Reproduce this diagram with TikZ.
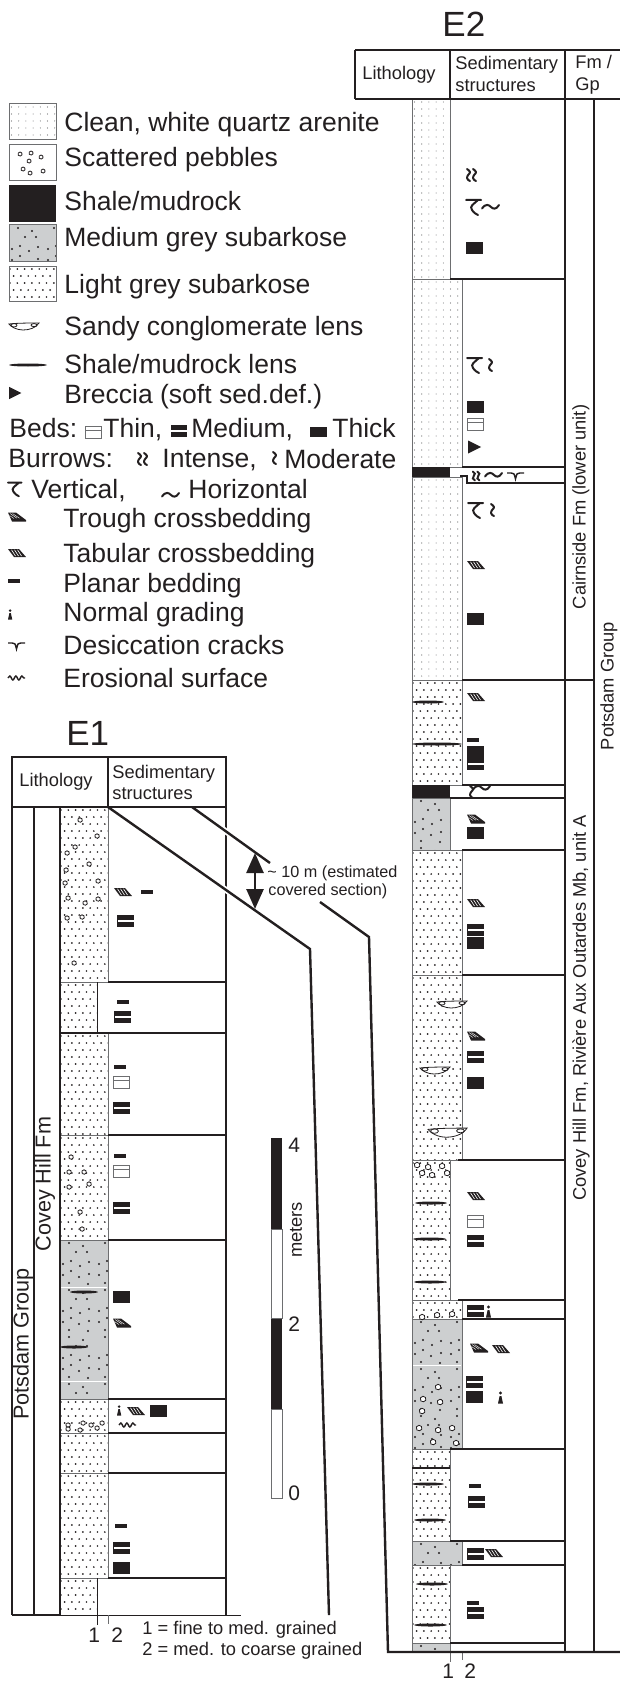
\documentclass[tikz,border=0pt]{standalone}
\usepackage{fontspec}
\setmainfont{Liberation Sans}
\usetikzlibrary{arrows.meta,calc,decorations.pathmorphing}
\definecolor{ink}{HTML}{231F20}
\definecolor{medgrey}{HTML}{CDCFD0}
\definecolor{edgegrey}{HTML}{6D6E70}
\tikzset{
	lab/.style={font=\fontsize{9.15}{11}\selectfont,inner sep=0pt,anchor=base west,text=ink},
	leg/.style={font=\fontsize{13.25}{15}\selectfont,inner sep=0pt,anchor=base west,text=ink},
	big/.style={font=\fontsize{17.5}{20}\selectfont,inner sep=0pt,anchor=base west,text=ink},
	num/.style={font=\fontsize{10.5}{12}\selectfont,inner sep=0pt,anchor=base west,text=ink},
	rot/.style={font=\fontsize{9.15}{11}\selectfont,inner sep=0pt,rotate=90,text=ink},
	rotbig/.style={font=\fontsize{10.8}{12}\selectfont,inner sep=0pt,rotate=90,text=ink},
	secline/.style={draw=ink,line width=1.2pt},
	sideline/.style={draw=edgegrey,line width=0.5pt},
	burrow/.style={draw=ink,line width=1pt,line cap=round},
	thickbed/.pic={\fill[ink] (0,-6) rectangle (17,6);},
	medbed/.pic={\fill[ink] (0,-6) rectangle (17,6);\fill[white] (0.5,-1) rectangle (16.5,1);},
	thinbed/.pic={\draw[edgegrey,line width=0.5pt,fill=white] (0,-6) rectangle (16,6) (0,-1.5) -- (16,-1.5);},
	planarbed/.pic={\fill[ink] (0,-1.7) rectangle (12,1.7);},
	tabularsym/.pic={\fill[ink] (0,-4) -- (11,-4) -- (18,4) -- (6,4) -- cycle;
		\draw[white,line width=0.3pt] (3.5,-3.2) -- (7.5,3) (6.5,-3.2) -- (10.5,3) (9.5,-3.2) -- (13.5,3);},
	troughsym/.pic={\fill[ink] (0,-4.5) -- (8,-4.5) -- (18,3) -- (18,4.5) -- (4,4.5) -- cycle;
		\draw[white,line width=0.2pt] (2,-3.5) -- (9,1.2) (4.5,-3.5) -- (11.5,1.2) (1.5,-1.5) -- (6,1.5);},
	gradingsym/.pic={\fill[ink] (0,6.5) -- (5,6.5) -- (3.4,-1) -- (1.6,-1) -- cycle;\fill[ink] (2.5,-4) circle (1.7);},
	intensesym/.pic={\draw[burrow] (1,-6) .. controls (4,-4) and (5,-2.5) .. (2.5,-0.5) .. controls (0,2) and (1,5) .. (4,6)
		(7,-6) .. controls (10,-4) and (11,-2.5) .. (8.5,-0.5) .. controls (6,2) and (7,5) .. (10,6);},
	moderatesym/.pic={\draw[burrow] (1,-6) .. controls (4,-4) and (5,-2.5) .. (2.5,-0.5) .. controls (0,2) and (1,5) .. (4,6);},
	verticalsym/.pic={\draw[burrow] (0,-7) -- (15,-7) (12,-7) .. controls (8,-3) and (3,-1) .. (6,3) .. controls (8,6) and (10,7) .. (12,8);},
	horizsym/.pic={\draw[burrow] (0,1.5) .. controls (4,-4) and (7,-2) .. (9,0) .. controls (11,2) and (14,3) .. (17,-2);},
	desicsym/.pic={\draw[ink,line width=0.7pt] (0,-2) -- (4,-2) .. controls (7,-2) .. (8.5,4) .. controls (10,-2) .. (13,-2) -- (17,-2);},
	brecciasym/.pic={\fill[ink] (0,-6.5) -- (13,0) -- (0,6.5) -- cycle;},
	erosionsym/.pic={\draw[ink,line width=0.7pt,decorate,decoration={snake,amplitude=1,segment length=3}] (0,0) -- (17,0);},
	conglens/.pic={\draw[ink,line width=0.4pt,fill=white] (0,-2) .. controls (8,-3) and (22,-3) .. (30,-3) .. controls (27,2) and (20,4) .. (14,4) .. controls (8,4) and (2,1) .. (0,-2) -- cycle;
		\draw[ink,line width=0.4pt] (5,-0.7) ellipse (3 and 1.7) (25,-0.9) ellipse (3 and 1.5);},
	pebble/.pic={\draw[ink,line width=0.4pt,fill=white] (-2,-1) -- (0,-2.2) -- (2,-1.2) -- (2.2,1) -- (0.5,2.2) -- (-1.8,1.5) -- cycle;}
}
\newcommand{\lightbed}[4]{%
	\begin{scope}
	\clip (#1,#2) rectangle (#3,#4);
	\pgfmathtruncatemacro{\nrows}{(#4-#2)/7}
	\pgfmathtruncatemacro{\ncols}{(#3-#1)/7.3}
	\fill[ink] \foreach \ri in {0,...,\nrows}{\foreach \ci in {0,...,\ncols}{({#1+1+\ci*7.3+3.6*mod(\ri,2)},{#2+3+\ri*7}) circle (0.95)}};
	\end{scope}
	\draw[sideline] (#1,#2) rectangle (#3,#4);}
\newcommand{\quartzbed}[4]{%
	\begin{scope}
	\clip (#1,#2) rectangle (#3,#4);
	\pgfmathtruncatemacro{\nrows}{(#4-#2)/7}
	\pgfmathtruncatemacro{\ncols}{(#3-#1)/7.2}
	\fill[edgegrey] \foreach \ri in {0,...,\nrows}{\foreach \ci in {0,...,\ncols}{({#1+2.5+\ci*7.2},{#2+3+\ri*7}) circle (0.55)}};
	\end{scope}
	\draw[sideline] (#1,#2) rectangle (#3,#4);}
\newcommand{\greybed}[4]{%
	\fill[medgrey] (#1,#2) rectangle (#3,#4);
	\begin{scope}
	\clip (#1,#2) rectangle (#3,#4);
	\pgfmathtruncatemacro{\nrows}{(#4-#2)/47}
	\fill[ink] \foreach \ri in {0,...,\nrows}{\foreach \ci in {0,1}{\foreach \dx/\dy in {9/3,23/6,16/12,27/12,3/24,11/21,20/26,29/22,11/31,3/35,19/37,29/34,9/43,28/44}{({#1+\dx+36*\ci},{#2+\dy+47*\ri}) circle (1.15)}}};
	\end{scope}
	\draw[sideline] (#1,#2) rectangle (#3,#4);}
\newcommand{\shalelens}[3]{\fill[ink] ({(#1+#2)/2},#3) ellipse ({(#2-#1)/2} and 1.5);}
\begin{document}
\begin{tikzpicture}[x=0.5pt,y=-0.5pt]
	\useasboundingbox (0,0) rectangle (620,1685);

	\quartzbed{9}{104}{56}{140}
	\draw[sideline,fill=white] (9,145) rectangle (56,181);
	\foreach \px/\py in {20/154,31/153,41/157,29/161,23/169,30/173,43/171}
		\pic[scale=0.9] at (\px,\py) {pebble};
	\fill[ink] (9,185) rectangle (56,222);
	\greybed{9}{225}{56}{261}
	\lightbed{9}{266}{56}{301}
	\pic at (9,326) {conglens};
	\shalelens{9}{47}{365}
	\pic[scale=0.95] at (9,393) {brecciasym};

	\node[leg] (clean) at (64,132) {Clean, white quartz arenite};
	\node[leg] (scattered) at (64,167) {Scattered pebbles};
	\node[leg] (shale) at (64,211) {Shale/mudrock};
	\node[leg] (medgr) at (64,247) {Medium grey subarkose};
	\node[leg] (ltgr) at (64,293) {Light grey subarkose};
	\node[leg] (sandy) at (64,335) {Sandy conglomerate lens};
	\node[leg] (shlens) at (64,373) {Shale/mudrock lens};
	\node[leg] (breccia) at (64,403) {Breccia (soft sed.def.)};
	\node[leg] (beds) at (9,437) {Beds:};
	\pic at (85,432) {thinbed};
	\node[leg] (thin) at (103,437) {Thin,};
	\pic[scale=0.95] at (171,431) {medbed};
	\node[leg] (medium) at (191,437) {Medium,};
	\pic[yscale=0.85] at (310,432) {thickbed};
	\node[leg] (thick) at (332,437) {Thick};
	\node[leg] (burrows) at (8,467) {Burrows:};
	\pic at (137,459) {intensesym};
	\node[leg] (intense) at (162,467) {Intense,};
	\pic at (272,458) {moderatesym};
	\node[leg] (moderate) at (284,468) {Moderate};
	\pic[scale=0.9] at (8,489) {verticalsym};
	\node[leg] (vertical) at (31,498) {Vertical,};
	\pic at (162,495) {horizsym};
	\node[leg] (horizontal) at (188,498) {Horizontal};
	\pic at (8,517) {troughsym};
	\node[leg] (trough) at (63,527) {Trough crossbedding};
	\pic at (8,553) {tabularsym};
	\node[leg] (tabular) at (63,562) {Tabular crossbedding};
	\pic at (8,581) {planarbed};
	\node[leg] (planar) at (63,592) {Planar bedding};
	\pic[scale=0.85] at (8,614) {gradingsym};
	\node[leg] (normal) at (63,621) {Normal grading};
	\pic at (8,645) {desicsym};
	\node[leg] (desic) at (63,654) {Desiccation cracks};
	\pic at (8,678) {erosionsym};
	\node[leg] (erosional) at (63,687) {Erosional surface};

	\node[big] (e2) at (442,37) {E2};
	\quartzbed{412}{99}{450}{279}
	\quartzbed{412}{279}{462}{467}
	\quartzbed{412}{477}{462}{680}
	\lightbed{412}{680}{462}{785}
	\greybed{412}{798}{450}{850}
	\lightbed{412}{850}{462}{975}
	\lightbed{412}{975}{462}{1160}
	\lightbed{412}{1160}{450}{1300}
	\lightbed{412}{1300}{462}{1319}
	\greybed{412}{1319}{462}{1449}
	\lightbed{412}{1449}{450}{1541}
	\greybed{412}{1541}{462}{1565}
	\lightbed{412}{1565}{450}{1643}
	\greybed{412}{1643}{450}{1652}
	\fill[ink] (412,467) rectangle (450,477);
	\fill[ink] (412,785) rectangle (450,798);
	\draw[white,line width=0.5pt] (413,1365) -- (461,1365);
	\draw[sideline] (450,477) -- (462,477);

	\draw[secline] (355,50) -- (620,50);
	\draw[secline] (355,99) -- (620,99);
	\draw[secline] (355,50) -- (355,99);
	\draw[secline] (450,50) -- (450,99);
	\draw[secline] (565,50) -- (565,1652);
	\draw[secline] (594,99) -- (594,1652);
	\foreach \sx/\sy in {450/279,462/467,462/785,450/798,462/850,462/975,458/1160,458/1300,462/1319,450/1449,450/1541,462/1565,450/1643}
		\draw[secline] (\sx,\sy) -- (565,\sy);
	\draw[secline] (462,680) -- (594,680);
	\draw[secline] (460,476) -- (467,476) -- (467,483) -- (565,483);
	\draw[secline,line width=1.4pt] (412,1468) -- (450,1468);
	\draw[sideline] (450,1652) -- (450,1662);
	\draw[sideline] (462,1652) -- (462,1660);
	\node[num] (e2one) at (442,1678) {1};
	\node[num] (e2two) at (464,1678) {2};

	\node[lab] (e2lith) at (362,80) {Lithology};
	\node[lab] (e2sed) at (455,70) {Sedimentary};
	\node[lab] (e2str) at (455,92) {structures};
	\node[lab] (e2fm) at (575,69) {Fm /};
	\node[lab] (e2gp) at (575,91) {Gp};
	\node[rot] (e2cair) at (581,507) {Cairnside Fm (lower unit)};
	\node[rot] (e2covey) at (581,1008) {Covey Hill Fm, Rivière Aux Outardes Mb, unit A};
	\node[rot] (e2pots) at (609,686) {Potsdam Group};

	\pic at (466,175) {intensesym};
	\pic at (466,207) {verticalsym};
	\pic at (482,207) {horizsym};
	\pic at (466,248) {thickbed};
	\pic at (467,365) {verticalsym};
	\pic at (488,365) {moderatesym};
	\pic at (467,407) {thickbed};
	\pic at (467,424) {thinbed};
	\pic at (468,447) {brecciasym};
	\pic[scale=0.75] at (472,476) {intensesym};
	\pic at (485,475) {horizsym};
	\pic at (507,475) {desicsym};
	\pic at (468,510) {verticalsym};
	\pic at (490,510) {moderatesym};
	\pic at (467,565) {tabularsym};
	\pic at (467,619) {thickbed};
	\pic at (467,697) {tabularsym};
	\pic at (467,740) {planarbed};
	\pic at (467,752) {thickbed};
	\pic at (467,764) {medbed};
	\pic at (469,792) {moderatesym};
	\pic at (473,788) {horizsym};
	\pic at (467,819) {troughsym};
	\pic at (467,833) {thickbed};
	\pic at (467,903) {tabularsym};
	\pic at (467,930) {medbed};
	\pic at (467,943) {thickbed};
	\pic at (467,1036) {troughsym};
	\pic at (467,1057) {medbed};
	\pic at (467,1083) {thickbed};
	\pic at (467,1196) {tabularsym};
	\pic at (467,1221) {thinbed};
	\pic at (467,1241) {medbed};
	\pic at (467,1311) {medbed};
	\pic at (486,1311) {gradingsym};
	\pic at (470,1348) {troughsym};
	\pic at (492,1349) {tabularsym};
	\pic at (466,1382) {medbed};
	\pic at (466,1397) {thickbed};
	\pic at (498,1397) {gradingsym};
	\pic at (469,1486) {planarbed};
	\pic at (468,1502) {medbed};
	\pic at (467,1554) {medbed};
	\pic at (485,1553) {tabularsym};
	\pic at (467,1603) {planarbed};
	\pic at (467,1613) {medbed};

	\pic at (437,1004) {conglens};
	\pic at (420,1070) {conglens};
	\pic[scale=1.3] at (428,1132) {conglens};
	\foreach \px/\py in {417/1165,428/1167,442/1166,422/1173,432/1175,447/1173,422/1317,437/1315,452/1314,438/1387,423/1399,440/1402,422/1411,419/1428,438/1430,452/1428,433/1442,456/1443}
		\pic[scale=1.25] at (\px,\py) {pebble};
	\shalelens{412}{444}{702}
	\shalelens{412}{462}{744}
	\shalelens{415}{447}{1203}
	\shalelens{413}{446}{1239}
	\shalelens{414}{446}{1282}
	\shalelens{412}{444}{1484}
	\shalelens{414}{446}{1520}
	\shalelens{416}{448}{1584}
	\shalelens{414}{447}{1625}

	\node[big] (e1) at (66,745) {E1};
	\lightbed{60}{807}{108}{982}
	\lightbed{60}{982}{97}{1033}
	\lightbed{60}{1033}{108}{1135}
	\lightbed{60}{1135}{108}{1240}
	\greybed{60}{1240}{108}{1399}
	\lightbed{60}{1399}{108}{1433}
	\lightbed{60}{1433}{108}{1473}
	\lightbed{60}{1473}{108}{1578}
	\lightbed{60}{1578}{97}{1615}
	\draw[white,line width=0.5pt] (61,1287) -- (107,1287);
	\draw[white,line width=0.5pt] (61,1381) -- (107,1381);

	\draw[secline] (12,757) rectangle (226,807);
	\draw[secline] (108,757) -- (108,807);
	\draw[secline] (12,807) -- (12,1615);
	\draw[secline] (34,807) -- (34,1615);
	\draw[secline] (60,807) -- (60,1615);
	\draw[secline] (226,807) -- (226,1615);
	\draw[secline] (12,1615) -- (60,1615);
	\foreach \sx/\sy in {108/982,60/1033,108/1135,108/1240,108/1399,108/1433,108/1473,108/1578}
		\draw[secline] (\sx,\sy) -- (226,\sy);
	\draw[ink,line width=0.5pt] (60,1615) -- (241,1615);
	\draw[ink,line width=0.5pt] (97,982) -- (97,1033);
	\draw[ink,line width=0.5pt] (97,1578) -- (97,1625);
	\draw[sideline] (108,1615) -- (108,1624);
	\node[num] (e1one) at (88,1642) {1};
	\node[num] (e1two) at (111,1642) {2};
	\node[lab] (e1note) at (142,1634) {1 = fine to med. grained};
	\node[lab] (e2note) at (142,1655) {2 = med. to coarse grained};

	\node[lab] (e1lith) at (19,786) {Lithology};
	\node[lab] (e1sed) at (112,778) {Sedimentary};
	\node[lab] (e1str) at (112,799) {structures};
	\node[rotbig] (e1pots) at (23,1344) {Potsdam Group};
	\node[rotbig] (e1covey) at (45,1184) {Covey Hill Fm};

	\coordinate (d1a) at (108,807);
	\coordinate (d1b) at (310,949);
	\coordinate (d1c) at (329,1615);
	\coordinate (d2a) at (192,807);
	\coordinate (d2b) at (270,863);
	\coordinate (d2c) at (320,902);
	\coordinate (d2d) at (369,937);
	\coordinate (d2e) at (388,1652);
	\coordinate (d2f) at (620,1652);
	\coordinate (brtop) at (255,853);
	\coordinate (brbot) at (255,909);
	\draw[white,line width=3pt] ($(d1a)!0.5!(d1b)$) -- ($(d1a)!0.7!(d1b)$);
	\draw[white,line width=3pt] ($(d2a)!0.2!(d2b)$) -- ($(d2a)!0.8!(d2b)$);
	\draw[secline] (d1a) -- (d1b) -- (d1c);
	\draw[secline] (d2a) -- (d2b);
	\draw[secline] (d2c) -- (d2d) -- (d2e) -- (d2f);
	\draw[{Triangle[length=10pt,width=8.5pt]}-{Triangle[length=10pt,width=8.5pt]},ink,line width=1.3pt] (brtop) -- (brbot);
	\node[lab,font=\fontsize{8.1}{10}\selectfont] (cov1) at (267,877) {\textasciitilde{} 10 m (estimated};
	\node[lab,font=\fontsize{8.1}{10}\selectfont] (cov2) at (268,895) {covered section)};

	\pic at (114,892) {tabularsym};
	\pic at (141,892) {planarbed};
	\pic at (117,921) {medbed};
	\pic at (117,1002) {planarbed};
	\pic at (114,1017) {medbed};
	\pic at (114,1067) {planarbed};
	\pic at (113,1082) {thinbed};
	\pic at (113,1108) {medbed};
	\pic at (114,1156) {planarbed};
	\pic at (113,1171) {thinbed};
	\pic at (113,1208) {medbed};
	\pic at (113,1297) {thickbed};
	\pic at (113,1323) {troughsym};
	\pic[scale=0.85] at (117,1410) {gradingsym};
	\pic at (127,1411) {tabularsym};
	\pic at (150,1411) {thickbed};
	\pic at (119,1425) {erosionsym};
	\pic at (115,1526) {planarbed};
	\pic at (113,1548) {medbed};
	\pic at (113,1568) {thickbed};
	\foreach \px/\py in {80/820,97/836,75/847,67/853,89/864,66/870,65/883,98/881,68/898,85/903,98/899,67/918,82/917,74/963,71/1157,69/1172,84/1172,69/1187,89/1184,80/1212,82/1229,68/1425,68/1429,80/1430,83/1423,91/1425,97/1428,102/1423}
		\pic at (\px,\py) {pebble};
	\shalelens{70}{98}{1292}
	\shalelens{60}{88}{1347}

	\fill[ink] (271,1138) rectangle (282,1229);
	\fill[ink] (271,1318) rectangle (282,1409);
	\draw[sideline] (271,1229) rectangle (282,1318);
	\draw[sideline] (271,1409) rectangle (282,1498);
	\node[num] (m4) at (288,1152) {4};
	\node[num] (m2) at (288,1331) {2};
	\node[num] (m0) at (288,1500) {0};
	\node[rot] (meters) at (296,1230) {meters};
\end{tikzpicture}
\end{document}
